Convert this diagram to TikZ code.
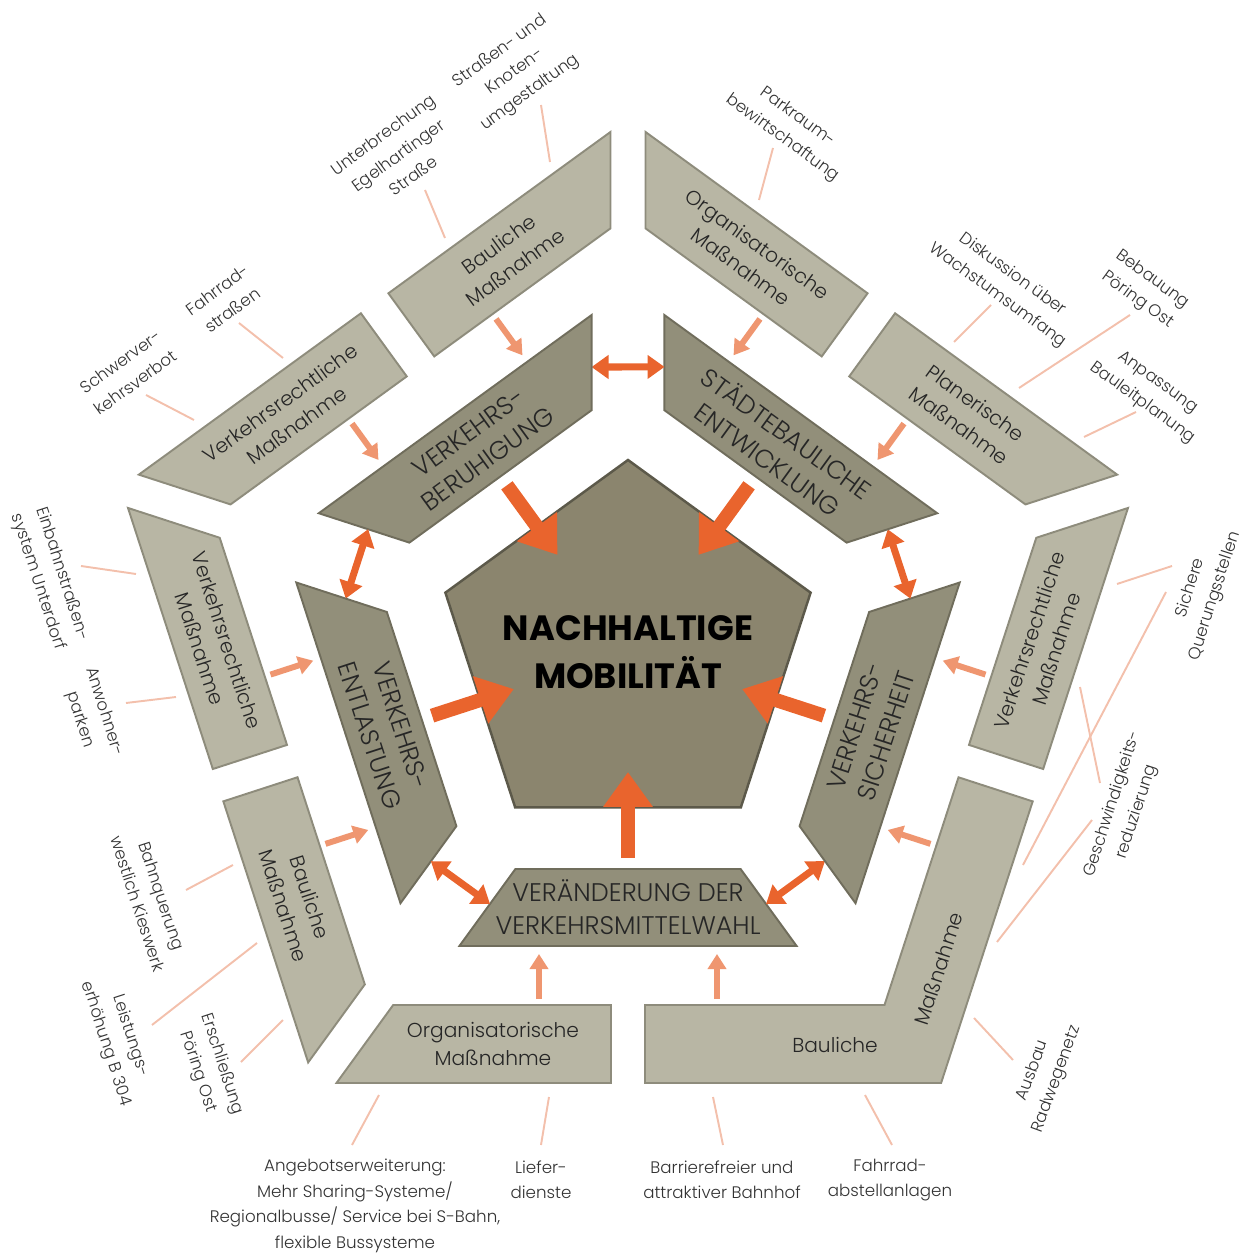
\documentclass[tikz,border=0pt]{standalone}
\usepackage{fontspec}
\setmainfont{Poppins}[UprightFont=* Light, BoldFont=* Bold]
\usetikzlibrary{arrows.meta}

\definecolor{kernfill}{RGB}{139,133,110}
\definecolor{kernrand}{RGB}{92,89,74}
\definecolor{innenfill}{RGB}{146,143,122}
\definecolor{innenrand}{RGB}{112,109,92}
\definecolor{aussenfill}{RGB}{184,182,164}
\definecolor{aussenrand}{RGB}{142,140,124}
\definecolor{pfeil}{RGB}{233,100,45}
\definecolor{pfeilhell}{RGB}{239,150,112}
\definecolor{linie}{RGB}{243,192,172}

\tikzset{
  kernseg/.style={fill=kernfill, draw=kernrand, line width=1.4pt},
  inseg/.style={fill=innenfill, draw=innenrand, line width=1.1pt},
  outseg/.style={fill=aussenfill, draw=aussenrand, line width=1.1pt},
  kerntext/.style={font=\bfseries\fontsize{20}{27}\selectfont, align=center, text=black},
  intext/.style={font=\fontsize{14.5}{18.5}\selectfont, align=center, text=black!85},
  outtext/.style={font=\fontsize{11.5}{16}\selectfont, align=center, text=black!85},
  labeltext/.style={font=\fontsize{9.5}{14.5}\selectfont, align=center, text=black!80},
  bigarrow/.style={pfeil, line width=8pt, -{Triangle[length=0.7cm, width=0.95cm]}},
  duoarrow/.style={pfeil, line width=4pt, {Triangle[length=0.34cm, width=0.46cm]}-{Triangle[length=0.34cm, width=0.46cm]}},
  smallarrow/.style={pfeilhell, line width=3.4pt, -{Triangle[length=0.3cm, width=0.36cm]}},
  conn/.style={linie, line width=1.1pt}
}

\begin{document}
\begin{tikzpicture}[x=0.02cm, y=0.02cm]
\useasboundingbox (-628,-601) rectangle (615,652);

% Kern
\draw[kernseg] (90:192) -- (162:192) -- (234:192) -- (306:192) -- (18:192) -- cycle;
\node[kerntext] (kern) at (0,0) {NACHHALTIGE\\MOBILITÄT};

% innerer Ring
\foreach \ang/\rot/\txt in {0/0/{VERÄNDERUNG DER\\VERKEHRSMITTELWAHL},
    72/72/{VERKEHRS-\\SICHERHEIT}, 144/-36/{STÄDTEBAULICHE\\ENTWICKLUNG},
    216/36/{VERKEHRS-\\BERUHIGUNG}, 288/-72/{VERKEHRS-\\ENTLASTUNG}} {
  \begin{scope}[rotate=\ang]
    \draw[inseg] (-112.6,-217) -- (112.6,-217) -- (168.6,-294) -- (-168.6,-294) -- cycle;
    \node[intext, rotate=\rot] (ziel\ang) at (0,-255) {\txt};
    \coordinate (von\ang) at (0,-206);
    \coordinate (bis\ang) at (0,-120);
    \draw[bigarrow] (von\ang) -- (bis\ang);
    \coordinate (dl\ang) at (138,-252.1);
    \coordinate (dr\ang) at (197,-209.1);
    \draw[duoarrow] (dl\ang) -- (dr\ang);
    \foreach \s in {-1,1} {
      \coordinate (sa\ang\s) at ({89*\s},-347);
      \coordinate (sb\ang\s) at ({89*\s},-302);
      \draw[smallarrow] (sa\ang\s) -- (sb\ang\s);
    }
  \end{scope}
}

% aeusserer Ring
\foreach \ang/\s/\rot/\txt in {0/-1/0/{Organisatorische\\Maßnahme},
    72/1/72/{Verkehrsrechtliche\\Maßnahme},
    144/-1/-36/{Planerische\\Maßnahme}, 144/1/-36/{Organisatorische\\Maßnahme},
    216/-1/36/{Bauliche\\Maßnahme}, 216/1/36/{Verkehrsrechtliche\\Maßnahme},
    288/-1/-72/{Verkehrsrechtliche\\Maßnahme}, 288/1/-72/{Bauliche\\Maßnahme}} {
  \begin{scope}[rotate=\ang]
    \draw[outseg] ({17*\s},-353) -- ({234.8*\s},-353) -- ({291.5*\s},-431) -- ({17*\s},-431) -- cycle;
    \node[outtext, rotate=\rot] (mass\ang\s) at ({135*\s},-392) {\txt};
  \end{scope}
}
\draw[outseg] (17,-353) -- (256.5,-353) -- (330.5,-125.3) -- (404.7,-149.4) -- (313.1,-431) -- (17,-431) -- cycle;
\node[outtext] (baul) at (207,-393) {Bauliche};
\begin{scope}[rotate=72]
  \node[outtext, rotate=72] (massn) at (-205,-393) {Maßnahme};
\end{scope}

% Beschriftungen
\begin{scope}[shift={(-628,652)}, yscale=-1]
  \node[labeltext, rotate=36] (schwer) at (128,372) {Schwerver-\\kehrsverbot};
  \node[labeltext, rotate=36] (fstr) at (225,300) {Fahrrad-\\straßen};
  \node[labeltext, rotate=36] (unterb) at (398,155) {Unterbrechung\\Egelhartinger\\Straße};
  \node[labeltext, rotate=36] (knoten) at (515,72) {Straßen- und\\Knoten-\\umgestaltung};
  \node[labeltext, rotate=-36] (park) at (790,128) {Parkraum-\\bewirtschaftung};
  \node[labeltext, rotate=-36] (disk) at (1005,285) {Diskussion über\\Wachstumsumfang};
  \node[labeltext, rotate=-36] (bebau) at (1145,290) {Bebauung\\Pöring Ost};
  \node[labeltext, rotate=-36] (anpass) at (1150,393) {Anpassung\\Bauleitplanung};
  \node[labeltext, rotate=72] (sicher) at (1203,592) {Sichere\\Querungsstellen};
  \node[labeltext, rotate=72] (geschw) at (1125,808) {Geschwindigkeits-\\reduzierung};
  \node[labeltext, rotate=70] (ausbau) at (1045,1075) {Ausbau\\Radwegenetz};
  \node[labeltext] (fabst) at (890,1180) {Fahrrad-\\abstellanlagen};
  \node[labeltext] (barr) at (722,1180) {Barrierefreier und\\attraktiver Bahnhof};
  \node[labeltext] (liefer) at (541,1180) {Liefer-\\dienste};
  \node[labeltext] (angebot) at (355,1206) {Angebotserweiterung:\\Mehr Sharing-Systeme/\\Regionalbusse/ Service bei S-Bahn,\\flexible Bussysteme};
  \node[labeltext, rotate=-72] (ersch) at (210,1068) {Erschließung\\Pöring Ost};
  \node[labeltext, rotate=-72] (leist) at (118,1040) {Leistungs-\\erhöhung B 304};
  \node[labeltext, rotate=-72] (bahnq) at (150,900) {Bahnquerung\\westlich Kieswerk};
  \node[labeltext, rotate=-72] (anwohn) at (92,716) {Anwohner-\\parken};
  \node[labeltext, rotate=-72] (einb) at (50,578) {Einbahnstraßen-\\system Unterdorf};
  \foreach \n/\ax/\ay/\bx/\by in {schwer/146/395/194/420, fstr/239/323/283/358,
      unterb/425/190/445/238, knoten/541/105/550/162, park/773/148/759/200,
      disk/991/305/954/342, bebau/1130/315/1019/388, anpass/1136/412/1084/437,
      sicher/1172/566/1117/584, sicherb/1166/592/1023/865,
      geschw/1100/783/1080/687, geschwb/1092/820/997/942, ausbau/1013/1060/974/1018,
      fabst/892/1145/865/1095, barr/723/1145/713/1097, liefer/541/1145/549/1097,
      angebot/352/1145/379/1095, ersch/241/1062/283/1020, leist/152/1025/257/943,
      bahnq/186/890/233/865, anwohn/126/703/176/697, einb/81/566/136/574} {
    \coordinate (\n a) at (\ax,\ay);
    \coordinate (\n b) at (\bx,\by);
    \draw[conn] (\n a) -- (\n b);
  }
\end{scope}
\end{tikzpicture}
\end{document}
